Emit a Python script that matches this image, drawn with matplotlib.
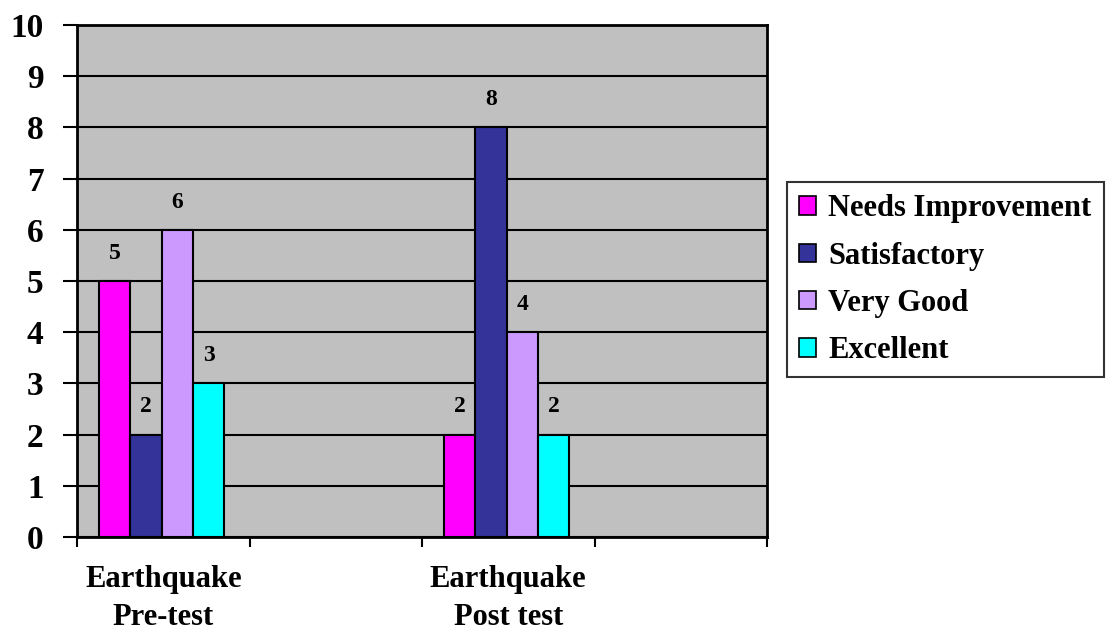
import numpy as np
import matplotlib
matplotlib.use("Agg")
import matplotlib.pyplot as plt
from matplotlib.patches import Patch

# categories (two empty slots as in the original sheet)
categories = ["Earthquake\nPre-test", "", "Earthquake\nPost test", ""]
series_names = ["Needs Improvement", "Satisfactory", "Very Good", "Excellent"]
needs_improvement = [5, None, 2, None]
satisfactory = [2, None, 8, None]
very_good = [6, None, 4, None]
excellent = [3, None, 2, None]
series_values = [needs_improvement, satisfactory, very_good, excellent]
colors = ["#FF00FF", "#333399", "#CC99FF", "#00FFFF"]

font = "Liberation Serif"
plt.rcParams['font.family'] = font
plt.rcParams['font.weight'] = 'bold'

fig = plt.figure(figsize=(11.07, 6.31), dpi=100)
ax = fig.add_axes([77 / 1107, 1 - 537 / 631, 690 / 1107, 512 / 631])
ax.set_facecolor("#C0C0C0")

bar_w = 0.182
n = len(series_names)
centers = np.arange(len(categories)) + 0.49
for i, (name, vals, col) in enumerate(zip(series_names, series_values, colors)):
    for c, v in zip(centers, vals):
        if v is None:
            continue
        x = c + (i - (n - 1) / 2) * bar_w
        ax.bar(x, v, width=bar_w, color=col, edgecolor="black", linewidth=1.5, zorder=3)
        ax.annotate(str(v), (x, v), xytext=(0, 20), textcoords="offset points",
                    ha="center", va="center", fontsize=17, fontweight="bold", zorder=4)

ax.set_xlim(0, len(categories))
ax.set_ylim(0, 10)
ax.set_yticks(range(0, 11))
ax.yaxis.grid(True, color="black", linewidth=1.5, zorder=1)
ax.set_axisbelow(True)

ax.set_xticks(range(0, len(categories) + 1))
ax.set_xticklabels([])
ax.set_xticks(np.arange(len(categories)) + 0.5, minor=True)
ax.set_xticklabels(categories, minor=True, fontsize=22, fontweight="bold", linespacing=1.4)
ax.tick_params(axis="x", which="minor", length=0, pad=20)
ax.tick_params(axis="x", which="major", length=7, width=1.5, direction="out")
ax.tick_params(axis="y", length=10, width=1.5, direction="out", pad=14, labelsize=24)
for lab in ax.get_yticklabels():
    lab.set_fontweight("bold")

for sp in ax.spines.values():
    sp.set_linewidth(2)
    sp.set_color("black")

handles = [Patch(facecolor=c, edgecolor="black", linewidth=1.2) for c in colors]
leg = fig.legend(handles, series_names, loc="upper left",
                 bbox_to_anchor=(787 / 1107, 1 - 182 / 631),
                 prop={"family": font, "weight": "bold", "size": 22},
                 frameon=True, fancybox=False, edgecolor="black",
                 handlelength=0.55, handleheight=0.55, handletextpad=0.4,
                 labelspacing=0.6, borderpad=0.4, borderaxespad=0)
leg.get_frame().set_linewidth(1.5)

fig.savefig("out.png", dpi=100)
